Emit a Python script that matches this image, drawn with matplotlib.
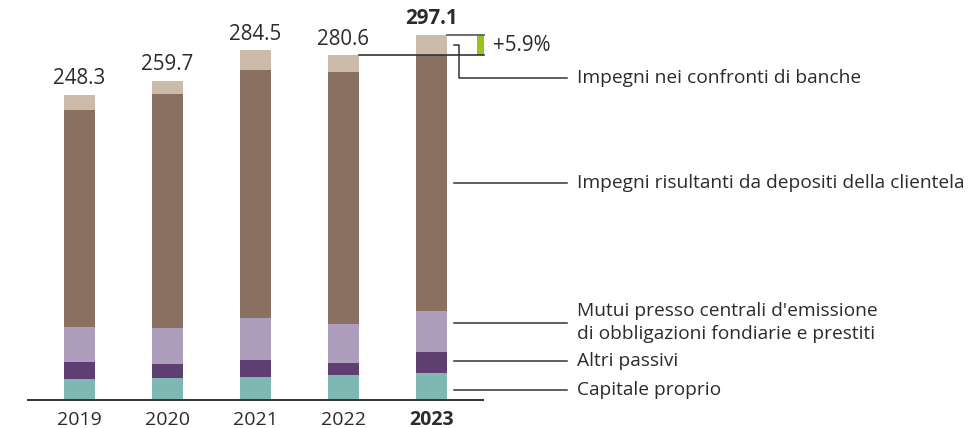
import matplotlib.pyplot as plt
import numpy as np

plt.rcParams['font.family'] = ['Open Sans', 'DejaVu Sans']

years = ['2019', '2020', '2021', '2022', '2023']
totals = [248.3, 259.7, 284.5, 280.6, 297.1]

capitale = [16.7, 17.5, 18.3, 20.0, 21.8]
altri = [13.9, 11.4, 13.9, 9.8, 17.3]
mutui = [28.5, 29.3, 34.2, 31.8, 32.9]
depositi = [177.0, 190.9, 201.8, 205.1, 208.8]
banche = [12.2, 10.6, 16.3, 13.9, 16.3]

labels = ['Capitale proprio', 'Altri passivi',
          "Mutui presso centrali d'emissione\ndi obbligazioni fondiarie e prestiti",
          'Impegni risultanti da depositi della clientela',
          'Impegni nei confronti di banche']
colors = ['#7fb8b2', '#5f3f72', '#ae9dbd', '#8a7060', '#cdbba9']
change = '+5.9%'

txt = '#2b2b2b'

fig = plt.figure(figsize=(9.69, 4.28), dpi=100)
ax = fig.add_axes([0, 0, 1, 1])
ax.set_xlim(-79.5 / 88, (969 - 79.5) / 88)
ax.set_ylim((399.5 - 428) / 1.227, 399.5 / 1.227)
ax.axis('off')

x = np.arange(len(years))
w = 0.352
bottom = np.zeros(len(years))
for vals, col in zip([capitale, altri, mutui, depositi, banche], colors):
    ax.bar(x, vals, w, bottom=bottom, color=col, linewidth=0)
    bottom += np.array(vals)

# baseline
ax.plot([-0.597, 4.597], [0, 0], color='#333333', lw=1.4, solid_capstyle='butt')

# totals and years
for i, (yr, t) in enumerate(zip(years, totals)):
    bold = 'bold' if i == len(years) - 1 else 'normal'
    ax.annotate(f'{t:.1f}', (x[i], t), xytext=(0, 4), textcoords='offset points',
                ha='center', va='bottom', fontsize=14.8, color=txt, fontweight=bold)
    ax.text(x[i], -16.5, yr, ha='center', va='center', fontsize=14,
            color=txt, fontweight=bold)

# change marker between 2022 and 2023
xr = 4.597
ax.plot([x[3] + w / 2, xr], [totals[3], totals[3]], color='#333333', lw=1.2)
ax.plot([x[4] + w / 2, xr], [totals[4], totals[4]], color='#555555', lw=1.2)
ax.bar(4.557, totals[4] - totals[3], 0.08, bottom=totals[3], color='#97c41e', linewidth=0)
ax.text(4.7, (totals[3] + totals[4]) / 2, change, ha='left', va='center',
        fontsize=14.8, color=txt)

# leader lines and labels
lx0 = x[4] + w / 2 + 0.08
lx1 = 5.54
tx = 5.653
b_mid = totals[4] - banche[4] / 2
ax.plot([lx0, lx0 + 0.06, lx0 + 0.06, lx1], [b_mid, b_mid, 262, 262],
        color='#333333', lw=1.1)
ax.text(tx, 262, labels[4], ha='left', va='center', fontsize=13.8, color=txt)

label_y = [7.7, 31.4, 62.6, 176.4]
for lab, ly in zip(labels[:4], label_y):
    ax.plot([lx0, lx1], [ly, ly], color='#333333', lw=1.1)
    ax.text(tx, ly, lab, ha='left', va='center', fontsize=13.8, color=txt,
            linespacing=1.4)

fig.savefig('out.png', dpi=100)
